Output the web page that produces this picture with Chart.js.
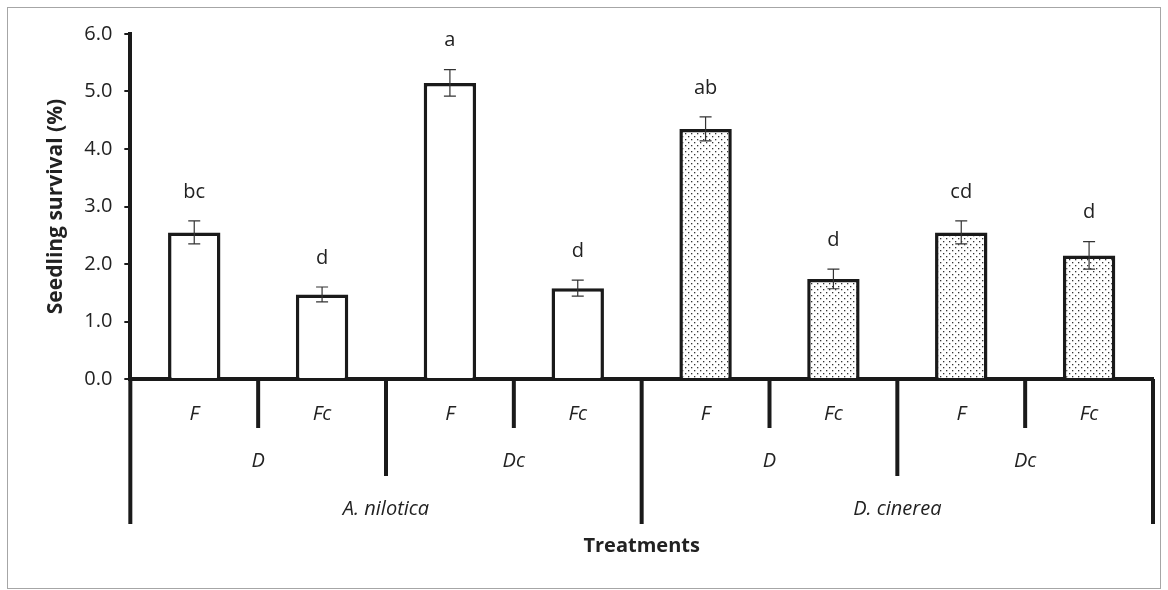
<!DOCTYPE html>
<html>
<head>
<meta charset="utf-8">
<script src="https://cdn.jsdelivr.net/npm/chart.js@4.4.1/dist/chart.umd.min.js"></script>
<style>
  html, body { margin: 0; padding: 0; background: #fff; overflow: hidden; }
  #frame { position: absolute; left: 7px; top: 7px; width: 1152px; height: 580px; border: 1px solid #a6a6a6; }
  #wrap { position: absolute; left: 0; top: 0; width: 1168px; height: 590px; }
</style>
</head>
<body>
<div id="frame"></div>
<div id="wrap"><canvas id="myChart" width="1168" height="590"></canvas></div>
<script>
// data
const categories = ["F", "Fc", "F", "Fc", "F", "Fc", "F", "Fc"];
const disturbance = ["D", "Dc", "D", "Dc"];
const species = ["A. nilotica", "D. cinerea"];
const survival = [2.55, 1.47, 5.15, 1.58, 4.35, 1.74, 2.55, 2.15];
const stdErr = [0.2, 0.13, 0.23, 0.14, 0.21, 0.17, 0.2, 0.24];
const letters = ["bc", "d", "a", "d", "ab", "d", "cd", "d"];
const yMin = 0, yMax = 6, yStep = 1;

const FONT = "'Open Sans', 'Noto Sans', sans-serif";

// dotted fill for the D. cinerea bars
function dotPattern() {
  const c = document.createElement("canvas");
  c.width = 6; c.height = 6;
  const g = c.getContext("2d");
  g.fillStyle = "#fff";
  g.fillRect(0, 0, 6, 6);
  g.fillStyle = "#333";
  g.fillRect(1, 1, 1.3, 1.3);
  g.fillRect(4, 4, 1.3, 1.3);
  return g.createPattern(c, "repeat");
}
const dots = dotPattern();
const fills = survival.map((v, i) => (i < 4 ? "#ffffff" : dots));

// error bars + significance letters
const errorBars = {
  id: "errorBars",
  afterDatasetsDraw(chart) {
    const { ctx, scales: { x, y } } = chart;
    ctx.save();
    ctx.strokeStyle = "#333";
    ctx.lineWidth = 1.2;
    ctx.fillStyle = "#222";
    ctx.font = "20px " + FONT;
    ctx.textAlign = "center";
    ctx.textBaseline = "middle";
    survival.forEach((v, i) => {
      const px = x.getPixelForValue(i);
      const hi = y.getPixelForValue(v + stdErr[i]);
      const lo = y.getPixelForValue(v - stdErr[i]);
      ctx.beginPath();
      ctx.moveTo(px, hi); ctx.lineTo(px, lo);
      ctx.moveTo(px - 6, hi); ctx.lineTo(px + 6, hi);
      ctx.moveTo(px - 6, lo); ctx.lineTo(px + 6, lo);
      ctx.stroke();
      ctx.fillText(letters[i], px, hi - 29);
    });
    ctx.restore();
  }
};

// nested category labels under the x axis
const groupAxis = {
  id: "groupAxis",
  afterDraw(chart) {
    const { ctx, scales: { x } } = chart;
    const y0 = chart.chartArea.bottom;
    const n = categories.length;
    const edge = (i) => {
      if (i === 0) return x.left;
      if (i === n) return x.right;
      return (x.getPixelForValue(i - 1) + x.getPixelForValue(i)) / 2;
    };
    ctx.save();
    ctx.strokeStyle = "#1a1a1a";
    ctx.lineWidth = 4;
    for (let i = 0; i <= n; i++) {
      let len = 49;
      if (i % 4 === 0) len = 145;
      else if (i % 2 === 0) len = 97;
      const px = edge(i);
      ctx.beginPath();
      ctx.moveTo(px, y0);
      ctx.lineTo(px, y0 + len);
      ctx.stroke();
    }
    ctx.fillStyle = "#222";
    ctx.textAlign = "center";
    ctx.textBaseline = "middle";
    ctx.font = "italic 20px " + FONT;
    categories.forEach((c, i) => ctx.fillText(c, x.getPixelForValue(i), y0 + 35));
    disturbance.forEach((d, j) => ctx.fillText(d, (edge(j * 2) + edge(j * 2 + 2)) / 2, y0 + 82));
    species.forEach((s, k) => ctx.fillText(s, (edge(k * 4) + edge(k * 4 + 4)) / 2, y0 + 130));
    ctx.font = "bold 20px " + FONT;
    ctx.fillText("Treatments", (x.left + x.right) / 2, y0 + 167);
    ctx.restore();
  }
};

const ctx = document.getElementById("myChart");

new Chart(ctx, {
  type: "bar",
  data: {
    labels: categories,
    datasets: [
      {
        label: "Seedling survival",
        data: survival,
        backgroundColor: fills,
        borderColor: "#1a1a1a",
        borderWidth: 3.5,
        categoryPercentage: 1,
        barPercentage: 0.41,
      },
    ],
  },
  options: {
    responsive: false,
    animation: false,
    devicePixelRatio: 1,
    layout: { padding: { top: 34, right: 15, bottom: 203, left: 39 } },
    plugins: { legend: { display: false }, tooltip: { enabled: false } },
    scales: {
      x: {
        ticks: { display: false },
        grid: { display: false },
        border: { display: true, color: "#1a1a1a", width: 4 },
      },
      y: {
        min: yMin,
        max: yMax,
        ticks: {
          stepSize: yStep,
          color: "#222",
          padding: 12,
          font: { family: FONT, size: 20 },
          callback: (v) => v.toFixed(1),
        },
        grid: { drawOnChartArea: false, drawTicks: true, tickLength: 6, color: "#1a1a1a", lineWidth: 2 },
        border: { display: true, color: "#1a1a1a", width: 4 },
        title: {
          display: true,
          text: "Seedling survival (%)",
          color: "#222",
          font: { family: FONT, size: 21, weight: "bold" },
          padding: { top: 4, bottom: 4 },
        },
      },
    },
  },
  plugins: [errorBars, groupAxis],
});
</script>
</body>
</html>
